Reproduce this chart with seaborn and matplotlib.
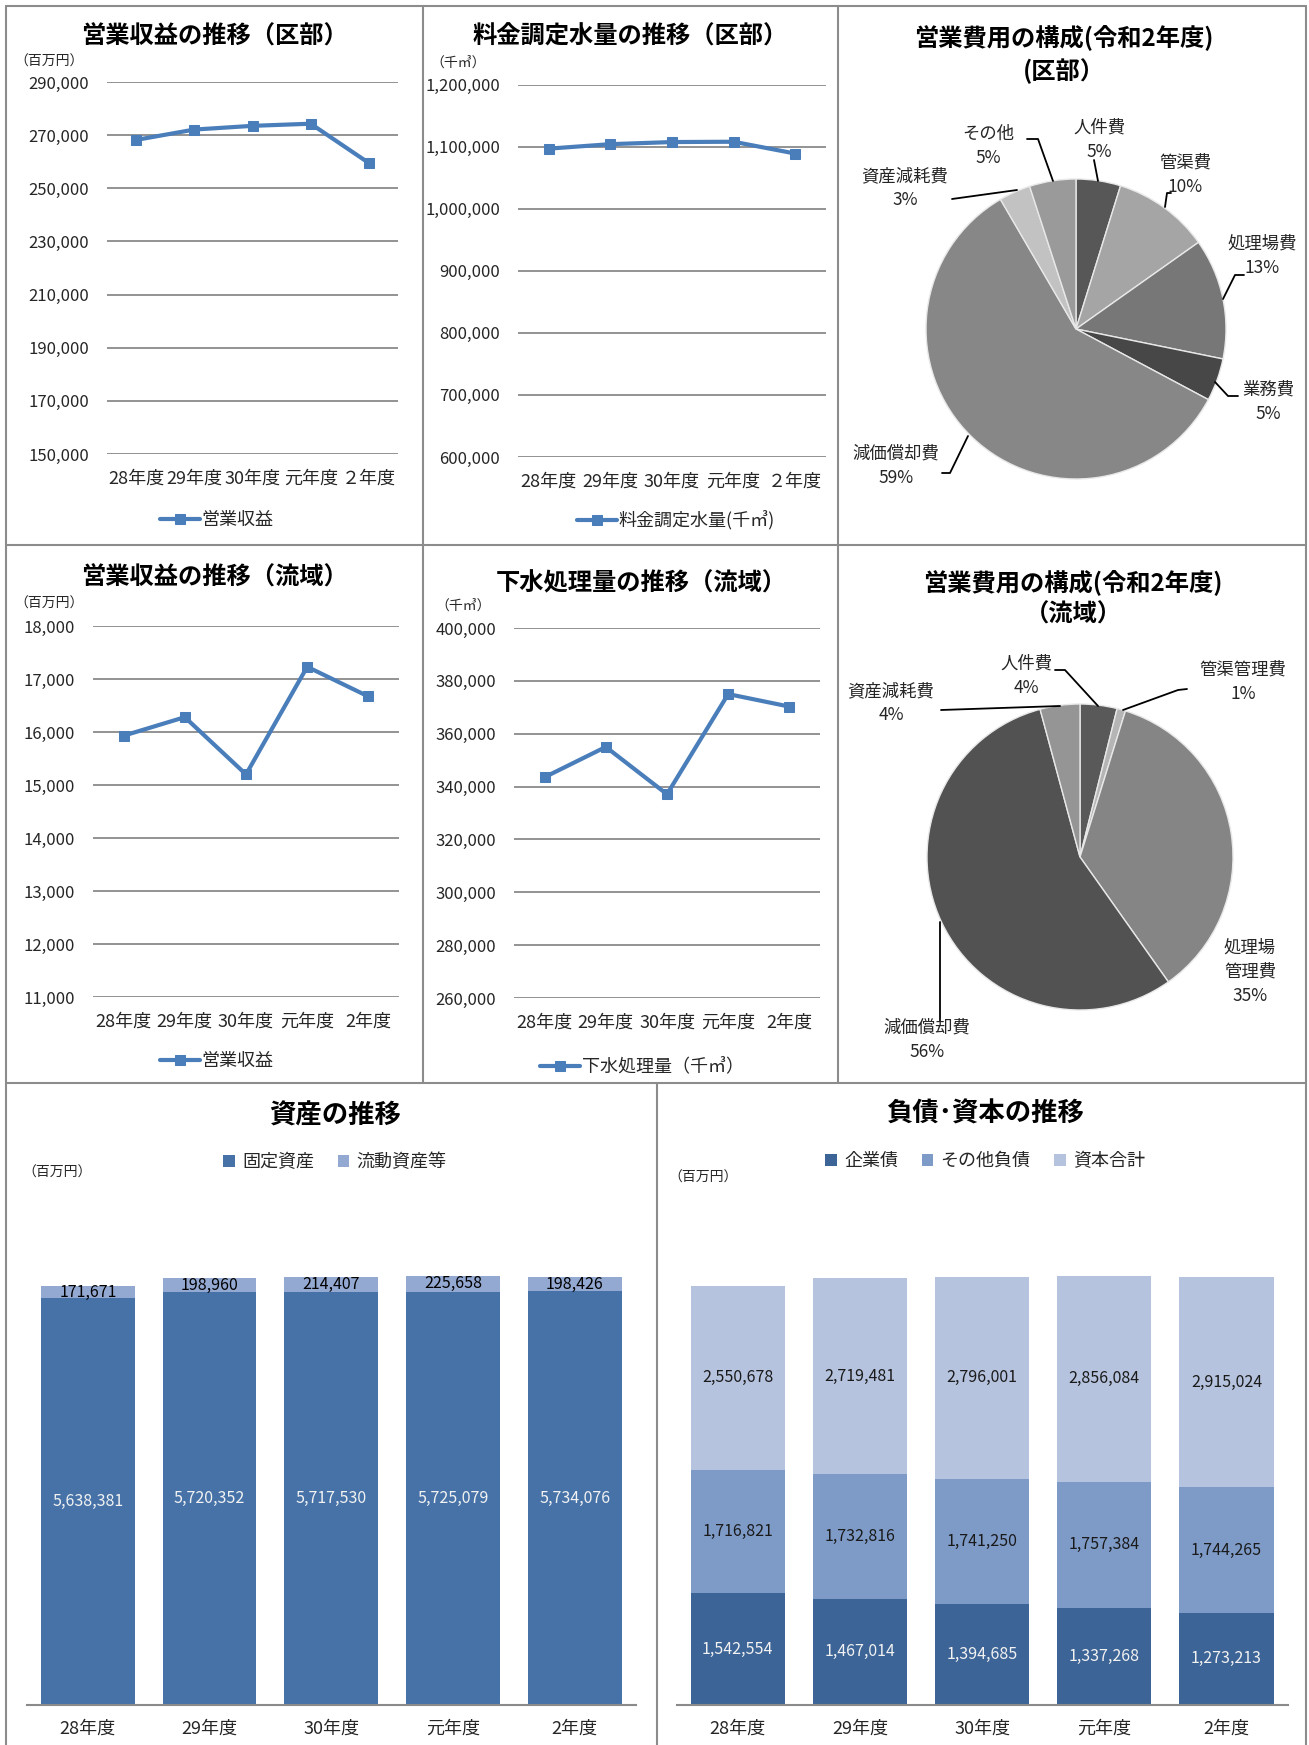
import matplotlib
matplotlib.use("Agg")
import matplotlib.pyplot as plt
from matplotlib.patches import Patch
from matplotlib.lines import Line2D
import seaborn as sns
import pandas as pd

# ---------------- data ----------------
years_top = ["28年度", "29年度", "30年度", "元年度", "２年度"]
years = ["28年度", "29年度", "30年度", "元年度", "2年度"]

revenue_ku = [268200, 272100, 273500, 274300, 259500]          # 百万円
billed_water_ku = [1096700, 1103900, 1107300, 1107800, 1088800]  # 千㎥
revenue_ryu = [15930, 16280, 15200, 17230, 16670]               # 百万円
treated_ryu = [343550, 355000, 337100, 375000, 370260]          # 千㎥

cost_ku_labels = ["人件費", "管渠費", "処理場費", "業務費", "減価償却費", "資産減耗費", "その他"]
cost_ku_values = [4.8, 10.4, 13.0, 4.6, 58.8, 3.4, 5.0]
cost_ryu_labels = ["人件費", "管渠管理費", "処理場\n管理費", "減価償却費", "資産減耗費"]
cost_ryu_values = [3.9, 0.9, 35.4, 55.6, 4.2]

fixed_assets = [5638381, 5720352, 5717530, 5725079, 5734076]
current_assets = [171671, 198960, 214407, 225658, 198426]
bonds = [1542554, 1467014, 1394685, 1337268, 1273213]
other_liab = [1716821, 1732816, 1741250, 1757384, 1744265]
capital = [2550678, 2719481, 2796001, 2856084, 2915024]

# ---------------- style ----------------
sns.set_style("white")
plt.rcParams["font.family"] = ["Noto Sans CJK JP", "DejaVu Sans"]
plt.rcParams["axes.unicode_minus"] = False

W, H = 1309, 1745
fig = plt.figure(figsize=(W / 100, H / 100), dpi=100)
fig.patch.set_facecolor("white")

BLUE = "#4a7ebb"
GRID = "#8a8a8a"
BORDER = "#8c8c8c"
TXT = "#262626"
TITLE_FS = 17.5


def add_ax(x0, y0, x1, y1):
    return fig.add_axes([x0 / W, 1 - y1 / H, (x1 - x0) / W, (y1 - y0) / H])


def ftext(x, y, s, **kw):
    fig.text(x / W, 1 - y / H, s, ha="center", va="center", **kw)


# ---------------- panel borders ----------------
def fline(xs, ys):
    fig.add_artist(Line2D([x / W for x in xs], [1 - y / H for y in ys],
                          color=BORDER, lw=1.5, transform=fig.transFigure))

fline([6, 1306], [6, 6])
fline([6, 6], [6, 1745])
fline([1306, 1306], [6, 1745])
fline([6, 1306], [545, 545])
fline([6, 1306], [1083, 1083])
fline([423, 423], [6, 1083])
fline([838, 838], [6, 1083])
fline([657, 657], [1083, 1745])


# ---------------- line panels ----------------
def line_panel(box, vals, ymin, ymax, step, cats, title, title_xy, unit, unit_xy,
               legend_label, legend_xy):
    ax = add_ax(*box)
    df = pd.DataFrame({"year": cats, "value": vals})
    sns.lineplot(data=df, x="year", y="value", ax=ax, sort=False, color=BLUE,
                 linewidth=3, marker="s", markersize=7.5, markeredgecolor=BLUE,
                 label=legend_label)
    ax.set_xlim(-0.5, len(cats) - 0.5)
    ax.set_ylim(ymin, ymax)
    ticks = list(range(ymin, ymax + 1, step))
    ax.set_yticks(ticks)
    ax.set_yticklabels([f"{t:,}" for t in ticks], fontsize=12, color=TXT)
    ax.tick_params(axis="y", length=0, pad=13)
    ax.tick_params(axis="x", length=0, pad=11, labelsize=13, labelcolor=TXT)
    ax.set_xlabel("")
    ax.set_ylabel("")
    for s in ax.spines.values():
        s.set_visible(False)
    for t in ticks:
        ax.axhline(t, color=GRID, lw=1.3, zorder=0)
    ax.set_zorder(1)
    ax.legend(loc="center", bbox_to_anchor=(legend_xy[0] / W, 1 - legend_xy[1] / H),
              bbox_transform=fig.transFigure, frameon=False, fontsize=13,
              handlelength=2.2, handletextpad=0.1, labelcolor=TXT)
    ftext(*title_xy, title, fontsize=TITLE_FS, fontweight="bold", color="black")
    ftext(*unit_xy, unit, fontsize=10, color=TXT)
    return ax


line_panel((107, 82, 398, 454), revenue_ku, 150000, 290000, 20000, years_top,
           "営業収益の推移（区部）", (214.5, 37), "（百万円）", (49, 62),
           "営業収益", (217, 520))
line_panel((518, 84.5, 826, 457), billed_water_ku, 600000, 1200000, 100000, years_top,
           "料金調定水量の推移（区部）", (630, 37), "（千㎥）", (458, 63),
           "料金調定水量(千㎥)", (676, 521))
line_panel((93, 626, 399, 997), revenue_ryu, 11000, 18000, 1000, years,
           "営業収益の推移（流域）", (214.5, 578), "（百万円）", (49, 604),
           "営業収益", (217, 1061))
line_panel((514, 628, 820, 998), treated_ryu, 260000, 400000, 20000, years,
           "下水処理量の推移（流域）", (641, 583), "（千㎥）", (463, 606),
           "下水処理量（千㎥）", (642, 1067))


# ---------------- pie panels ----------------
def pie_panel(cx, cy, r, vals, labels, colors, label_px, leaders_px):
    ax = add_ax(cx - r, cy - r, cx + r, cy + r)
    ax.pie(vals, colors=colors, startangle=90, counterclock=False, radius=1,
           wedgeprops=dict(linewidth=1.0, edgecolor="#e8e8e8"))
    ax.set_xlim(-1, 1)
    ax.set_ylim(-1, 1)
    ax.set_aspect("equal")
    ax.axis("off")

    def d(p):
        return ((p[0] - cx) / r, (cy - p[1]) / r)

    for lab, v, p in zip(labels, vals, label_px):
        x, y = d(p)
        ax.text(x, y, f"{lab}\n{v:.0f}%", ha="center", va="center", fontsize=12.5,
                color=TXT, linespacing=1.45, clip_on=False)
    for pts in leaders_px:
        xs, ys = zip(*[d(p) for p in pts])
        ax.plot(xs, ys, color="black", lw=1.3, clip_on=False)


pie_panel(1076, 329, 150, cost_ku_values, cost_ku_labels,
          ["#575757", "#a5a5a5", "#777777", "#474747", "#878787", "#c2c2c2", "#9a9a9a"],
          [(1099, 140), (1185, 175), (1262, 256), (1268, 402), (896, 466), (905, 188), (988, 146)],
          [[(1098, 181), (1094, 160)],
           [(1165, 207), (1167, 193), (1171, 193)],
           [(1223, 299), (1235, 275), (1244, 275)],
           [(1215, 382), (1228, 396), (1238, 396)],
           [(968, 436), (950, 473), (942, 473)],
           [(1017, 190), (952, 199)],
           [(1053, 181), (1038, 139), (1027, 139)]])
ftext(1064, 37, "営業費用の構成(令和2年度)", fontsize=TITLE_FS, fontweight="bold", color="black")
ftext(1064, 71, "(区部）", fontsize=TITLE_FS, fontweight="bold", color="black")

pie_panel(1080, 857, 153, cost_ryu_values, cost_ryu_labels,
          ["#595959", "#b5b5b5", "#858585", "#525252", "#959595"],
          [(1026, 676), (1243, 682), (1250, 972), (927, 1040), (891, 703)],
          [[(1055, 670), (1065, 670), (1098, 706)],
           [(1187, 689), (1178, 690), (1123, 710)],
           [(940, 922), (940, 1021)],
           [(941, 710), (1060, 706)]])
ftext(1073, 582, "営業費用の構成(令和2年度)", fontsize=TITLE_FS, fontweight="bold", color="black")
ftext(1073, 615, "（流域）", fontsize=TITLE_FS, fontweight="bold", color="black")


# ---------------- stacked bar panels ----------------
def bar_panel(box, layers, colors, names, label_colors, title, title_xy, legend_xy, unit_xy):
    ax = add_ax(*box)
    n = len(layers[0])
    cum = []
    run = [0] * n
    for layer in layers:
        run = [a + b for a, b in zip(run, layer)]
        cum.append(run)
    # draw from the top layer (largest cumulative) down
    for tot, col in zip(reversed(cum), reversed(colors)):
        sns.barplot(x=years, y=tot, ax=ax, color=col, width=0.77, saturation=1,
                    linewidth=0, order=years)
    ax.set_ylim(0, 7000000)
    ax.set_xlim(-0.5, n - 0.5)
    ax.set_yticks([])
    ax.set_ylabel("")
    ax.set_xlabel("")
    for k in ["top", "left", "right"]:
        ax.spines[k].set_visible(False)
    ax.spines["bottom"].set_color(GRID)
    ax.spines["bottom"].set_linewidth(1.5)
    ax.tick_params(axis="x", length=0, pad=11, labelsize=13, labelcolor=TXT)
    # value labels
    base = [0] * n
    for layer, lc in zip(layers, label_colors):
        for i, v in enumerate(layer):
            ax.text(i, base[i] + v / 2, f"{v:,}", ha="center", va="center",
                    fontsize=11.5, color=lc)
        base = [a + b for a, b in zip(base, layer)]
    handles = [Patch(facecolor=c, edgecolor="none") for c in colors]
    fig.legend(handles, names, loc="center",
               bbox_to_anchor=(legend_xy[0] / W, 1 - legend_xy[1] / H),
               ncol=len(names), frameon=False, fontsize=13, handlelength=0.65,
               handleheight=0.65, handletextpad=0.4, columnspacing=1.3, labelcolor=TXT)
    ftext(*title_xy, title, fontsize=19, fontweight="bold", color="black")
    ftext(*unit_xy, "（百万円）", fontsize=10, color=TXT)


bar_panel((27, 1200, 635.5, 1704.7), [fixed_assets, current_assets],
          ["#4672a8", "#94a9d2"], ["固定資産", "流動資産等"], ["#f2f2f2", "black"],
          "資産の推移", (335, 1116), (335, 1162), (57, 1173))
bar_panel((676.7, 1200, 1287.6, 1704.7), [bonds, other_liab, capital],
          ["#3c6496", "#7e9bc8", "#b5c3de"], ["企業債", "その他負債", "資本合計"],
          ["#f2f2f2", "#1a1a1a", "#1a1a1a"],
          "負債･資本の推移", (985, 1114), (985, 1161), (703, 1178))

fig.savefig("out.png", dpi=100)
